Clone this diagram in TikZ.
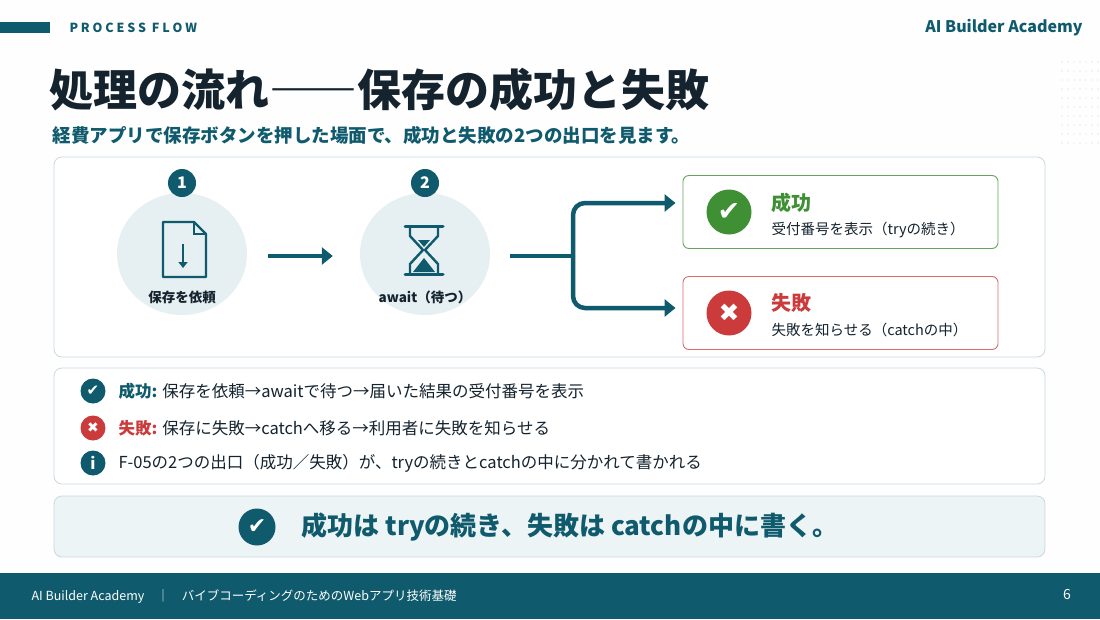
\documentclass[tikz,border=0pt]{standalone}
\usepackage{fontspec}
\setmainfont{Noto Sans CJK JP}
\newfontfamily\symfont{DejaVu Sans}
\usetikzlibrary{arrows.meta,positioning,calc,shapes.geometric}
\definecolor{teal}{HTML}{0F5A6C}
\definecolor{navy}{HTML}{14232E}
\definecolor{okgreen}{HTML}{3F8F35}
\definecolor{ngred}{HTML}{CC3B3B}
\definecolor{pale}{HTML}{E6EFF1}
\definecolor{rim}{HTML}{C9D9E1}
\tikzset{%
	panel/.style  = {draw=rim, line width=0.8pt, rounded corners=8pt, fill=white},
	stage/.style  = {ellipse, fill=pale, minimum width=130pt, minimum height=122pt},
	badge/.style  = {circle, fill=teal, text=white, font=\bfseries\fontsize{16}{16}\selectfont, minimum size=28pt, inner sep=0pt},
	caption/.style= {text=navy, font=\bfseries\fontsize{13.5}{13.5}\selectfont},
	result/.style = {rounded corners=6pt, line width=0.9pt, fill=white, minimum width=315pt, minimum height=73pt},
	token/.style  = {circle, inner sep=0pt, text=white},
	flow/.style   = {draw=teal, line width=4.5pt, -{Triangle[length=11pt,width=17pt]}},
	row/.style    = {anchor=west, text=navy, font=\fontsize{16.5}{16.5}\selectfont},
}
\begin{document}
\begin{tikzpicture}[x=1pt,y=-1pt]
		\useasboundingbox (0,0) rectangle (1100,619);
		\fill[white!97!pale] (0,0) rectangle (1100,619);
		\fill[pale!45] (1230,60) circle (120);
		\foreach \i in {0,...,6} \foreach \j in {0,...,9}
			\fill[rim] (1062+6*\i,62+9*\j) circle (0.7);
		% header
		\fill[teal] (0,22) rectangle (50,33);
		\node [anchor=west,text=teal,font=\bfseries\fontsize{12.5}{12.5}\selectfont] (kicker) at (66,28) {P R O C E S S\ \ F L O W};
		\node [anchor=east,text=teal,font=\bfseries\fontsize{16}{16}\selectfont] (brand) at (1086,28) {AI Builder Academy};
		\node [anchor=west,text=navy,font=\bfseries\fontsize{44}{44}\selectfont] (title) at (46,90) {処理の流れ――保存の成功と失敗};
		\node [anchor=west,text=teal,font=\bfseries\fontsize{18.5}{18.5}\selectfont] (lead) at (49,135) {経費アプリで保存ボタンを押した場面で、成功と失敗の2つの出口を見ます。};
		% flow panel
		\draw[panel] (54,157) rectangle (1045,357);
		\node [stage] (s1) at (182,254) {};
		\node [stage] (s2) at (425,254) {};
		\node [badge] (b1) at (182,183) {1};
		\node [badge] (b2) at (425,183) {2};
		\node [caption] (c1) at (182,297) {保存を依頼};
		\node [caption] (c2) at (425,297) {await（待つ）};
		% document icon
		\draw[teal,line width=2.4pt,line join=round] (163,222)--(194,222)--(206,234)--(206,277)--(163,277)--cycle;
		\draw[teal,line width=2pt] (194,222)--(194,234)--(206,234);
		\draw[teal,line width=2.4pt,-{Triangle[length=6pt,width=9pt]}] (183,244)--(183,268);
		% hourglass icon
		\draw[teal,line width=3pt,line cap=round] (405,226)--(443,226) (405,274)--(443,274);
		\draw[teal,line width=2.4pt] (410,226)--(410,236)--(423,250)--(410,264)--(410,274) (438,226)--(438,236)--(425,250)--(438,264)--(438,274);
		\fill[teal] (413,272)--(435,272)--(424,258)--cycle (418,240)--(430,240)--(424,247)--cycle;
		% results
		\node [result,draw=okgreen!80!white] (ok) at (840.5,212) {};
		\node [result,draw=ngred!75!white] (ng) at (840.5,313) {};
		\node [token,fill=okgreen,minimum size=45pt,font=\symfont\fontsize{27}{27}\selectfont] (okm) at (729,212) {✔};
		\node [token,fill=ngred,minimum size=45pt,font=\symfont\fontsize{25}{25}\selectfont] (ngm) at (729,313) {✖};
		\node [anchor=west,text=okgreen,font=\bfseries\fontsize{20}{20}\selectfont] (okt) at (768,203) {成功};
		\node [anchor=west,text=navy,font=\fontsize{14.5}{14.5}\selectfont] (oks) at (768,230) {受付番号を表示（tryの続き）};
		\node [anchor=west,text=ngred,font=\bfseries\fontsize{20}{20}\selectfont] (ngt) at (768,303) {失敗};
		\node [anchor=west,text=navy,font=\fontsize{14.5}{14.5}\selectfont] (ngs) at (768,330) {失敗を知らせる（catchの中）};
		% connectors
		\coordinate (fork) at (573,256);
		\draw[flow] ($(s1.east)+(21,2)$) -- ($(s2.west)+(-27,2)$);
		\draw[draw=teal,line width=4.5pt] ($(s2.east)+(20,2)$) -- (fork);
		\draw[flow,rounded corners=12pt] (fork) |- ($(ok.west)+(-7,-9)$);
		\draw[flow,rounded corners=12pt] (fork) |- ($(ng.west)+(-7,-5)$);
		% summary panel
		\draw[panel] (54,368) rectangle (1045,484);
		\node [token,fill=teal,minimum size=25pt,font=\symfont\fontsize{15}{15}\selectfont] (i1) at (93,391) {✔};
		\node [token,fill=ngred,minimum size=25pt,font=\symfont\fontsize{14}{14}\selectfont] (i2) at (93,428) {✖};
		\node [token,fill=teal,minimum size=25pt,font=\bfseries\fontsize{16}{16}\selectfont] (i3) at (93,463) {i};
		\node [row] (r1) at (115,391) {\textcolor{teal}{\bfseries 成功:} 保存を依頼→awaitで待つ→届いた結果の受付番号を表示};
		\node [row] (r2) at (115,428) {\textcolor{ngred}{\bfseries 失敗:} 保存に失敗→catchへ移る→利用者に失敗を知らせる};
		\node [row] (r3) at (115,463) {F-05の2つの出口（成功／失敗）が、tryの続きとcatchの中に分かれて書かれる};
		% takeaway
		\draw[panel,fill=pale!70] (54,496) rectangle (1045,557);
		\node [token,fill=teal,minimum size=37pt,font=\symfont\fontsize{22}{22}\selectfont] (km) at (257,527) {✔};
		\node [anchor=west,text=teal,font=\bfseries\fontsize{26}{26}\selectfont] (kt) at (298,527) {成功は tryの続き、失敗は catchの中に書く。};
		% footer
		\fill[teal] (0,573) rectangle (1100,619);
		\node [anchor=west,text=white,font=\fontsize{12.5}{12.5}\selectfont] (foot) at (28,596) {AI Builder Academy\quad｜\quad バイブコーディングのためのWebアプリ技術基礎};
		\node [text=white,font=\fontsize{14}{14}\selectfont] (page) at (1067,594) {6};
\end{tikzpicture}
\end{document}
